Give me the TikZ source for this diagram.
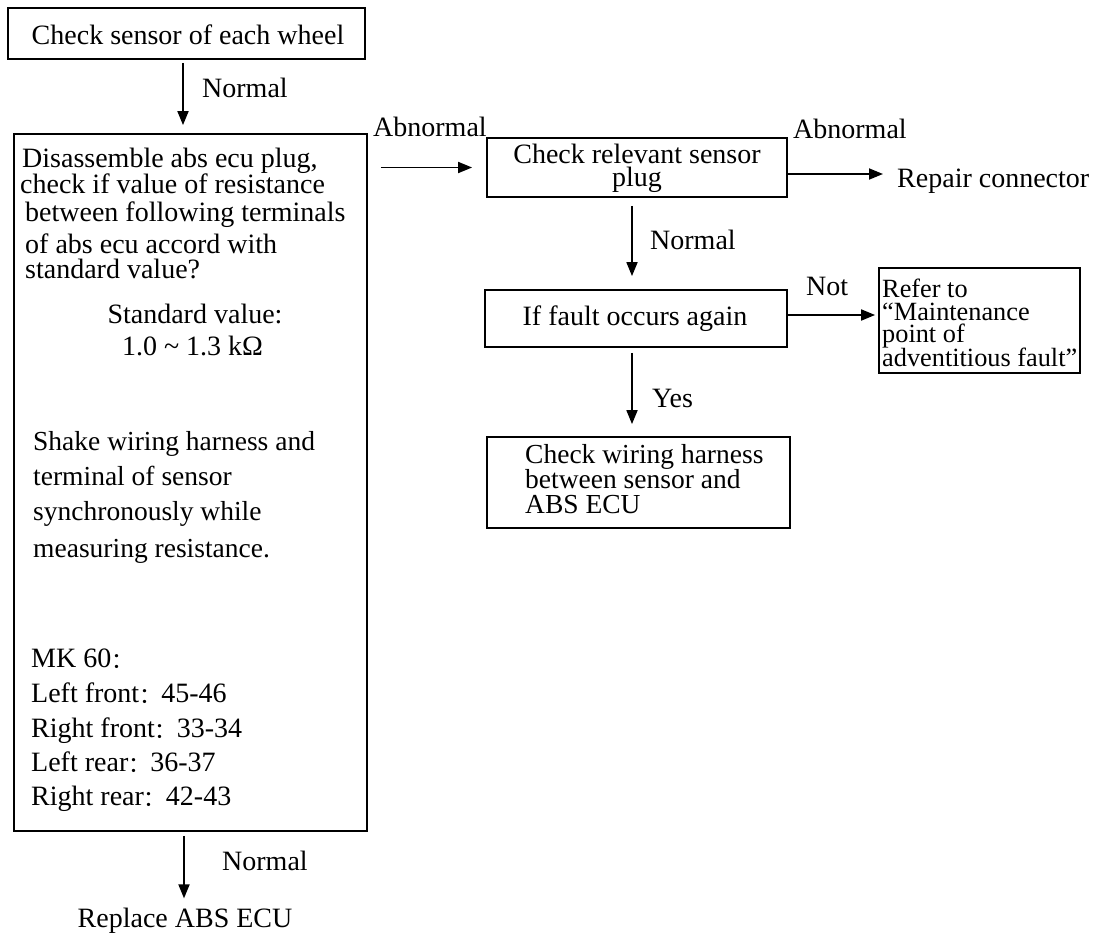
\documentclass[tikz,border=0pt]{standalone}
\usepackage{fontspec}
\setmainfont{Liberation Serif}
\newfontfamily\cjk{Noto Sans CJK SC}
\usetikzlibrary{arrows.meta}
% full-width colon, set a little smaller to sit with the serif text
\newcommand{\fwc}{{\cjk\fontsize{22}{22}\selectfont\raisebox{-1.5pt}{：}}}
\begin{document}
\begin{tikzpicture}[x=1pt,y=-1pt,
  every node/.style={inner sep=0pt, font=\fontsize{28}{30}\selectfont},
  box/.style={draw, line width=1.8pt, minimum width=#1},
  txt/.style={anchor=base west},
  ctxt/.style={anchor=base},
  small/.style={font=\fontsize{27.5}{28}\selectfont},
  tiny/.style={font=\fontsize{26.3}{27}\selectfont},
  arr/.style={draw, line width=1.8pt, -{Triangle[length=14pt,width=11pt]}}]
\useasboundingbox[fill=white] (0,0) rectangle (1095,934);

% boxes
\node[box=357pt, minimum height=51pt] (b1) at (186.5,33.5) {};
\node[box=353pt, minimum height=697pt] (b2) at (190.5,482.5) {};
\node[box=300pt, minimum height=59pt] (b3) at (637,167.5) {};
\node[box=302pt, minimum height=57pt] (b4) at (636,318.5) {};
\node[box=201pt, minimum height=105pt] (b5) at (979.5,320.5) {};
\node[box=303pt, minimum height=91pt] (b6) at (638.5,482.5) {};

% texts of the left column
\node[ctxt] (t1) at (188,45) {Check sensor of each wheel};
\node[txt] (n1) at (202,97) {Normal};
\node[txt] (p1) at (22,167) {Disassemble abs ecu plug,};
\node[txt] (p2) at (20,193) {check if value of resistance};
\node[txt] (p3) at (25,221) {between following terminals};
\node[txt] (p4) at (25,253) {of abs ecu accord with};
\node[txt] (p5) at (25,278) {standard value?};
\node[ctxt] (s1) at (195,323) {Standard value:};
\node[ctxt] (s2) at (192.5,355) {1.0 \textasciitilde{} 1.3 kΩ};
\node[txt, small] (h1) at (33,450) {Shake wiring harness and};
\node[txt, small] (h2) at (33,485) {terminal of sensor};
\node[txt, small] (h3) at (33,520) {synchronously while};
\node[txt, small] (h4) at (33,557) {measuring resistance.};
\node[txt] (m0) at (31,667) {MK 60\fwc};
\node[txt] (m1) at (31,702) {Left front\fwc 45-46};
\node[txt] (m2) at (31,737) {Right front\fwc 33-34};
\node[txt] (m3) at (31,771) {Left rear\fwc 36-37};
\node[txt] (m4) at (31,805) {Right rear\fwc 42-43};
\node[txt] (n3) at (222,870) {Normal};
\node[ctxt] (rep) at (185,927) {Replace ABS ECU};

% texts of the right part
\node[txt] (ab1) at (373,136) {Abnormal};
\node[txt] (ab2) at (793,138) {Abnormal};
\node[ctxt] (c1) at (637,163) {Check relevant sensor};
\node[ctxt] (c2) at (637,186) {plug};
\node[txt] (rc) at (897,187) {Repair connector};
\node[txt] (n2) at (650,249) {Normal};
\node[ctxt] (f1) at (635,325) {If fault occurs again};
\node[txt] (nt) at (806,295) {Not};
\node[txt, tiny] (r1) at (882,297) {Refer to};
\node[txt, tiny] (r2) at (882,320) {“Maintenance};
\node[txt, tiny] (r3) at (882,342) {point of};
\node[txt, tiny] (r4) at (882,366) {adventitious fault”};
\node[txt] (ys) at (652,407) {Yes};
\node[txt, small] (w1) at (525,463) {Check wiring harness};
\node[txt, small] (w2) at (525,488) {between sensor and};
\node[txt, small] (w3) at (525,513) {ABS ECU};

% connectors
\draw[arr] ([xshift=-3.5pt,yshift=-3pt]b1.south) -- ([xshift=-7.5pt,yshift=8pt]b2.north);
\draw[arr] ([xshift=13pt]b2.east |- b3.west) -- ([xshift=-14pt]b3.west);
\draw[arr] ([yshift=-6.5pt]b3.east) -- ([xshift=-14pt,yshift=-6.5pt]b3.east -| rc.west);
\draw[arr] ([xshift=-5pt,yshift=-8pt]b3.south) -- ([xshift=-4pt,yshift=13pt]b4.north);
\draw[arr] ([yshift=3.5pt]b4.east) -- ([xshift=-3pt,yshift=5.5pt]b5.west);
\draw[arr] ([xshift=-4pt,yshift=-5pt]b4.south) -- ([xshift=-6.5pt,yshift=12pt]b6.north);
\draw[arr] ([xshift=-6.5pt,yshift=-4pt]b2.south) -- ([xshift=-1pt,yshift=9pt]rep.north);
\end{tikzpicture}
\end{document}
